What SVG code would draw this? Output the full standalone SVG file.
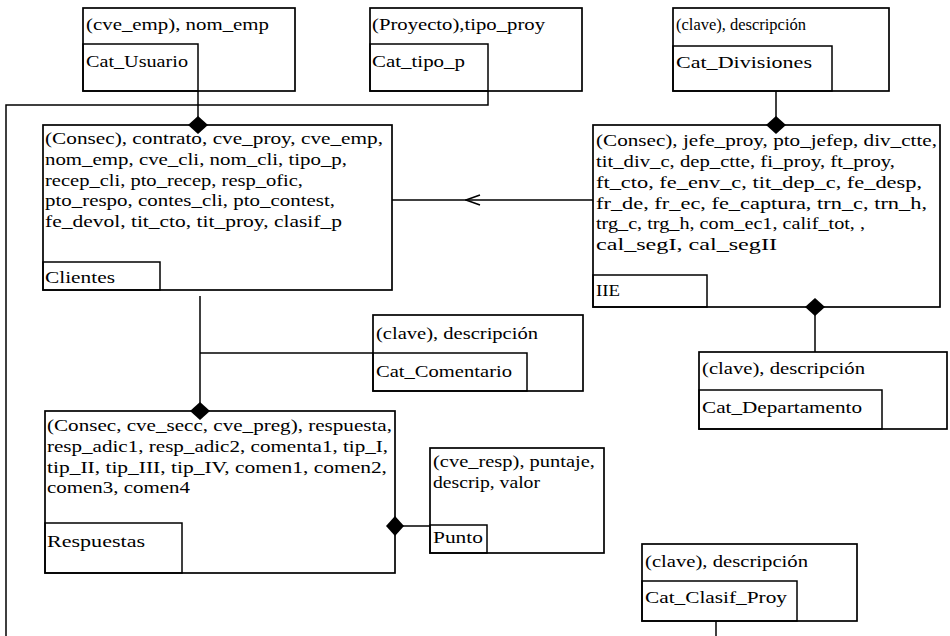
<svg xmlns="http://www.w3.org/2000/svg" width="950" height="636" viewBox="0 0 950 636">
<style>
  .box { fill: #fff; stroke: #000; stroke-width: 1.7; }
  .lbl { fill: none; stroke: #000; stroke-width: 1.5; }
  .conn { fill: none; stroke: #000; stroke-width: 1.5; }
  text { font-family: "Liberation Serif", "Times New Roman", serif; font-size: 17px; fill: #000; }
</style>
<defs>
  <marker id="diamond" markerUnits="userSpaceOnUse" markerWidth="18" markerHeight="20" viewBox="0 0 18 20" refX="9" refY="10" orient="auto">
    <path d="M0,10 L9,0 L18,10 L9,20 Z" fill="#000"/>
  </marker>
  <marker id="arrow" markerUnits="userSpaceOnUse" markerWidth="16" markerHeight="12" viewBox="0 0 16 12" refX="15" refY="6" orient="auto">
    <path d="M1,1 L15,6 L1,11" fill="none" stroke="#000" stroke-width="1.5"/>
  </marker>
</defs>
<rect width="950" height="636" fill="#fff"/>

<g id="Cat_Usuario">
  <rect class="box" x="83" y="8" width="212" height="83"/>
  <rect class="lbl" x="83" y="44" width="115" height="47"/>
  <text x="86" y="30" textLength="183" lengthAdjust="spacingAndGlyphs">(cve_emp), nom_emp</text>
  <text x="86" y="67" textLength="102" lengthAdjust="spacingAndGlyphs">Cat_Usuario</text>
</g>

<g id="Cat_tipo_p">
  <rect class="box" x="370" y="8" width="212" height="83"/>
  <rect class="lbl" x="370" y="44" width="118" height="47"/>
  <text x="372" y="30" textLength="173" lengthAdjust="spacingAndGlyphs">(Proyecto),tipo_proy</text>
  <text x="372" y="67" textLength="93" lengthAdjust="spacingAndGlyphs">Cat_tipo_p</text>
</g>

<g id="Cat_Divisiones">
  <rect class="box" x="673" y="8" width="216" height="83"/>
  <rect class="lbl" x="673" y="46" width="159" height="45"/>
  <text x="676" y="30" textLength="130" lengthAdjust="spacingAndGlyphs">(clave), descripción</text>
  <text x="676" y="68" textLength="136" lengthAdjust="spacingAndGlyphs">Cat_Divisiones</text>
</g>

<g id="Clientes">
  <rect class="box" x="43" y="125" width="349" height="165"/>
  <rect class="lbl" x="43" y="262" width="117" height="28"/>
  <text x="45" y="144" textLength="338" lengthAdjust="spacingAndGlyphs">(Consec), contrato,  cve_proy, cve_emp,</text>
  <text x="45" y="165" textLength="302" lengthAdjust="spacingAndGlyphs">nom_emp, cve_cli, nom_cli, tipo_p,</text>
  <text x="45" y="185.5" textLength="258" lengthAdjust="spacingAndGlyphs">recep_cli, pto_recep, resp_ofic,</text>
  <text x="45" y="206" textLength="290" lengthAdjust="spacingAndGlyphs">pto_respo, contes_cli, pto_contest,</text>
  <text x="45" y="227" textLength="297" lengthAdjust="spacingAndGlyphs">fe_devol, tit_cto, tit_proy,  clasif_p</text>
  <text x="45" y="283" textLength="70" lengthAdjust="spacingAndGlyphs">Clientes</text>
</g>

<g id="IIE">
  <rect class="box" x="593" y="125" width="347" height="182"/>
  <rect class="lbl" x="593" y="275" width="114" height="32"/>
  <text x="596" y="146" textLength="341" lengthAdjust="spacingAndGlyphs">(Consec),  jefe_proy, pto_jefep, div_ctte,</text>
  <text x="596" y="167" textLength="299" lengthAdjust="spacingAndGlyphs">tit_div_c, dep_ctte, fi_proy, ft_proy,</text>
  <text x="596" y="188" textLength="326" lengthAdjust="spacingAndGlyphs">ft_cto, fe_env_c, tit_dep_c, fe_desp,</text>
  <text x="596" y="208.5" textLength="331" lengthAdjust="spacingAndGlyphs">fr_de, fr_ec, fe_captura, trn_c, trn_h,</text>
  <text x="596" y="229" textLength="269" lengthAdjust="spacingAndGlyphs">trg_c, trg_h, com_ec1,  calif_tot, ,</text>
  <text x="596" y="250" textLength="181" lengthAdjust="spacingAndGlyphs">cal_segI, cal_segII</text>
  <text x="596" y="296" textLength="24" lengthAdjust="spacingAndGlyphs">IIE</text>
</g>

<g id="Cat_Comentario">
  <rect class="box" x="373" y="315" width="210" height="76"/>
  <rect class="lbl" x="373" y="353" width="154" height="38"/>
  <text x="376" y="339" textLength="162" lengthAdjust="spacingAndGlyphs">(clave), descripción</text>
  <text x="376" y="377" textLength="136" lengthAdjust="spacingAndGlyphs">Cat_Comentario</text>
</g>

<g id="Cat_Departamento">
  <rect class="box" x="699" y="352" width="248" height="77"/>
  <rect class="lbl" x="699" y="390" width="183" height="39"/>
  <text x="702" y="374" textLength="163" lengthAdjust="spacingAndGlyphs">(clave), descripción</text>
  <text x="702" y="413" textLength="160" lengthAdjust="spacingAndGlyphs">Cat_Departamento</text>
</g>

<g id="Respuestas">
  <rect class="box" x="45" y="411" width="350" height="162"/>
  <rect class="lbl" x="45" y="523" width="137" height="50"/>
  <text x="47" y="431" textLength="345" lengthAdjust="spacingAndGlyphs">(Consec, cve_secc, cve_preg), respuesta,</text>
  <text x="47" y="452" textLength="341" lengthAdjust="spacingAndGlyphs">resp_adic1, resp_adic2, comenta1, tip_I,</text>
  <text x="47" y="472.5" textLength="340" lengthAdjust="spacingAndGlyphs">tip_II, tip_III, tip_IV, comen1, comen2,</text>
  <text x="47" y="493" textLength="143" lengthAdjust="spacingAndGlyphs">comen3, comen4</text>
  <text x="47" y="547" textLength="98" lengthAdjust="spacingAndGlyphs">Respuestas</text>
</g>

<g id="Punto">
  <rect class="box" x="430" y="448" width="174" height="105"/>
  <rect class="lbl" x="430" y="525" width="57" height="28"/>
  <text x="433" y="467" textLength="162" lengthAdjust="spacingAndGlyphs">(cve_resp), puntaje,</text>
  <text x="433" y="488" textLength="107" lengthAdjust="spacingAndGlyphs">descrip, valor</text>
  <text x="433" y="543" textLength="50" lengthAdjust="spacingAndGlyphs">Punto</text>
</g>

<g id="Cat_Clasif_Proy">
  <rect class="box" x="642" y="544" width="215" height="77"/>
  <rect class="lbl" x="642" y="581" width="155" height="40"/>
  <text x="645" y="567" textLength="163" lengthAdjust="spacingAndGlyphs">(clave), descripción</text>
  <text x="645" y="603" textLength="142" lengthAdjust="spacingAndGlyphs">Cat_Clasif_Proy</text>
</g>

<g id="connectors">
  <path class="conn" d="M198,91 V125" marker-end="url(#diamond)"/>
  <path class="conn" d="M488,91 V105 H6 V636"/>
  <path class="conn" d="M776,91 V125" marker-end="url(#diamond)"/>
  <path class="conn" d="M593,200 L466,200 L392,200" marker-mid="url(#arrow)"/>
  <path class="conn" d="M815,352 V307" marker-end="url(#diamond)"/>
  <path class="conn" d="M200,296 V353 V411" marker-end="url(#diamond)"/>
  <path class="conn" d="M200,353 H373"/>
  <path class="conn" d="M430,526 H395" marker-end="url(#diamond)"/>
  <path class="conn" d="M716,621 V636"/>
</g>
</svg>
